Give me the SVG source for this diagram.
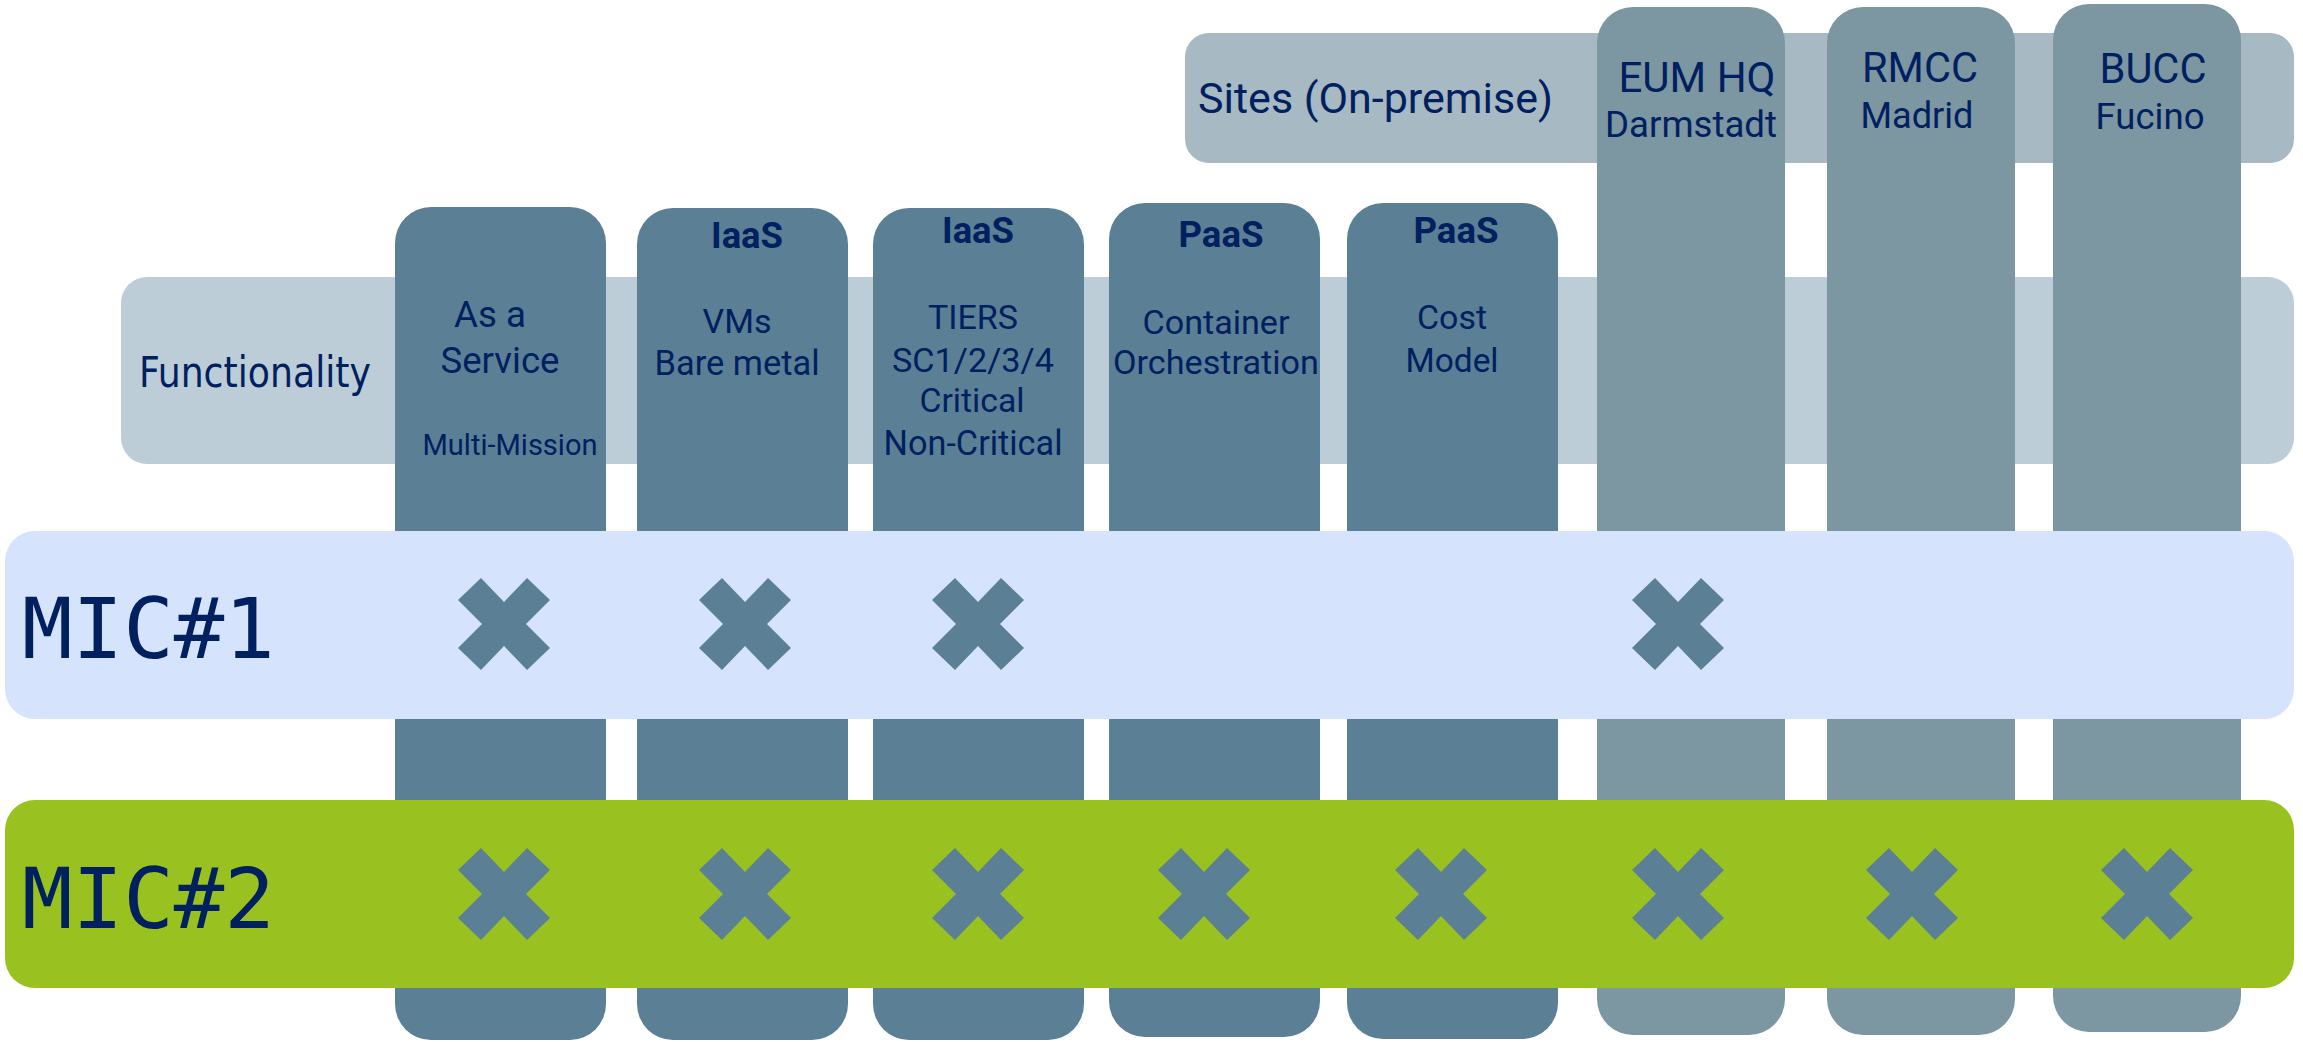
<svg xmlns="http://www.w3.org/2000/svg" xmlns:xlink="http://www.w3.org/1999/xlink" width="2303" height="1042" viewBox="0 0 2303 1042">
<style>
.col{fill:#5b7f95}
.site{fill:#7c96a2}
.t{fill:#002060;font-family:Roboto,"Liberation Sans",sans-serif;font-size:34px;text-anchor:middle}
.b{font-weight:bold;font-size:36px}
.s{font-size:42px}
.s2{font-size:37px}
.h{fill:#002060;font-family:"DejaVu Sans Condensed","DejaVu Sans",sans-serif;font-stretch:condensed}
.m{fill:#002060;font-family:"DejaVu Sans Mono",monospace;font-size:84px}
.x{fill:#5b7f95}
</style>
<defs>
<polygon id="xm" points="-46,-24 -23,-46 0,-22 23,-46 46,-24 22,0 46,24 23,46 0,22 -23,46 -46,24 -22,0"/>
</defs>
<g id="sites-bar">
<rect x="1185" y="33" width="1109" height="130" rx="24" fill="#a7b9c2"/>
<text class="t" x="1198" y="113" style="font-size:43px;text-anchor:start" textLength="355" lengthAdjust="spacingAndGlyphs">Sites (On-premise)</text>
</g>
<g id="functionality-bar">
<rect x="121" y="277" width="2173" height="187" rx="26" fill="#bccdd8"/>
<text class="h" x="139" y="387" style="font-size:42px" textLength="232" lengthAdjust="spacingAndGlyphs">Functionality</text>
</g>
<g id="col-service">
<rect class="col" x="395" y="207" width="211" height="833" rx="36"/>
<text class="t" x="490" y="327" style="font-size:37px" textLength="72" lengthAdjust="spacingAndGlyphs">As a</text>
<text class="t" x="500" y="373" style="font-size:37px" textLength="119" lengthAdjust="spacingAndGlyphs">Service</text>
<text class="t" x="510" y="455" style="font-size:30px" textLength="175" lengthAdjust="spacingAndGlyphs">Multi-Mission</text>
</g>
<g id="col-vms">
<rect class="col" x="637" y="208" width="211" height="832" rx="36"/>
<text class="t b" x="747" y="248" textLength="72" lengthAdjust="spacingAndGlyphs">IaaS</text>
<text class="t" x="737" y="333" textLength="69" lengthAdjust="spacingAndGlyphs">VMs</text>
<text class="t" x="737" y="375" style="font-size:35px" textLength="165" lengthAdjust="spacingAndGlyphs">Bare metal</text>
</g>
<g id="col-tiers">
<rect class="col" x="873" y="208" width="211" height="832" rx="36"/>
<text class="t b" x="978" y="243" textLength="72" lengthAdjust="spacingAndGlyphs">IaaS</text>
<text class="t" x="973" y="329" textLength="90" lengthAdjust="spacingAndGlyphs">TIERS</text>
<text class="t" x="973" y="372" textLength="162" lengthAdjust="spacingAndGlyphs">SC1/2/3/4</text>
<text class="t" x="972" y="412" textLength="105" lengthAdjust="spacingAndGlyphs">Critical</text>
<text class="t" x="973" y="455" style="font-size:35px" textLength="179" lengthAdjust="spacingAndGlyphs">Non-Critical</text>
</g>
<g id="col-container">
<rect class="col" x="1109" y="203" width="211" height="834" rx="36"/>
<text class="t b" x="1221" y="247" textLength="85" lengthAdjust="spacingAndGlyphs">PaaS</text>
<text class="t" x="1216" y="334" textLength="147" lengthAdjust="spacingAndGlyphs">Container</text>
<text class="t" x="1216" y="374" textLength="206" lengthAdjust="spacingAndGlyphs">Orchestration</text>
</g>
<g id="col-cost">
<rect class="col" x="1347" y="203" width="211" height="836" rx="36"/>
<text class="t b" x="1456" y="243" textLength="85" lengthAdjust="spacingAndGlyphs">PaaS</text>
<text class="t" x="1452" y="329" textLength="70" lengthAdjust="spacingAndGlyphs">Cost</text>
<text class="t" x="1452" y="372" textLength="93" lengthAdjust="spacingAndGlyphs">Model</text>
</g>
<g id="site-eumhq">
<rect class="site" x="1597" y="7" width="188" height="1028" rx="36"/>
<text class="t s" x="1697" y="92" textLength="157" lengthAdjust="spacingAndGlyphs">EUM HQ</text>
<text class="t s2" x="1691" y="137" textLength="172" lengthAdjust="spacingAndGlyphs">Darmstadt</text>
</g>
<g id="site-rmcc">
<rect class="site" x="1827" y="7" width="188" height="1028" rx="36"/>
<text class="t s" x="1920" y="82" textLength="116" lengthAdjust="spacingAndGlyphs">RMCC</text>
<text class="t s2" x="1917" y="128" textLength="113" lengthAdjust="spacingAndGlyphs">Madrid</text>
</g>
<g id="site-bucc">
<rect class="site" x="2053" y="4" width="188" height="1028" rx="36"/>
<text class="t s" x="2153" y="83" textLength="107" lengthAdjust="spacingAndGlyphs">BUCC</text>
<text class="t s2" x="2150" y="129" textLength="109" lengthAdjust="spacingAndGlyphs">Fucino</text>
</g>
<g id="mic1">
<rect x="5" y="531" width="2289" height="188" rx="30" fill="#d5e4fc"/>
<text class="m" x="22" y="658">MIC#1</text>
<g class="x">
<use xlink:href="#xm" x="504" y="624"/>
<use xlink:href="#xm" x="745" y="624"/>
<use xlink:href="#xm" x="978" y="624"/>
<use xlink:href="#xm" x="1678" y="624"/>
</g>
</g>
<g id="mic2">
<rect x="5" y="800" width="2289" height="188" rx="30" fill="#99c120"/>
<text class="m" x="22" y="928">MIC#2</text>
<g class="x">
<use xlink:href="#xm" x="504" y="894"/>
<use xlink:href="#xm" x="745" y="894"/>
<use xlink:href="#xm" x="978" y="894"/>
<use xlink:href="#xm" x="1204" y="894"/>
<use xlink:href="#xm" x="1441" y="894"/>
<use xlink:href="#xm" x="1678" y="894"/>
<use xlink:href="#xm" x="1912" y="894"/>
<use xlink:href="#xm" x="2147" y="894"/>
</g>
</g>
<g id="connectors"></g>
</svg>
